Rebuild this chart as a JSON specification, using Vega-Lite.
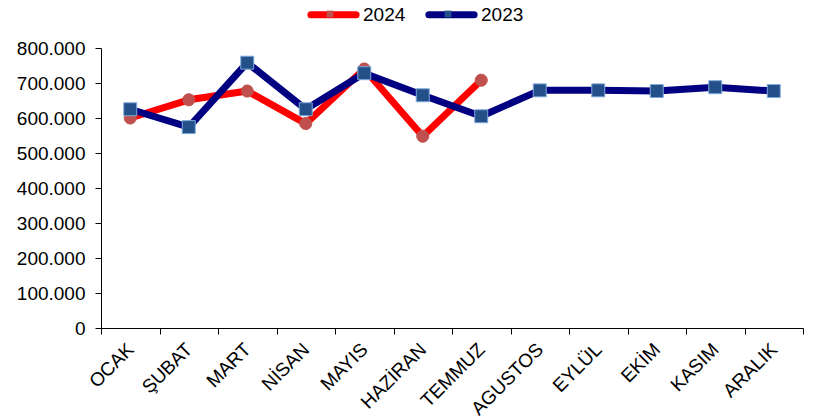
{
  "$schema": "https://vega.github.io/schema/vega-lite/v6.json",
  "width": 702,
  "height": 280,
  "autosize": "none",
  "padding": {"left": 101, "top": 48, "right": 10, "bottom": 92},
  "background": "white",
  "data": {
    "values": [
      {"month": "OCAK", "series": "2024", "value": 600000},
      {"month": "ŞUBAT", "series": "2024", "value": 652000},
      {"month": "MART", "series": "2024", "value": 677000},
      {"month": "NİSAN", "series": "2024", "value": 584000},
      {"month": "MAYIS", "series": "2024", "value": 740000},
      {"month": "HAZİRAN", "series": "2024", "value": 548000},
      {"month": "TEMMUZ", "series": "2024", "value": 708000},
      {"month": "OCAK", "series": "2023", "value": 625000},
      {"month": "ŞUBAT", "series": "2023", "value": 574000},
      {"month": "MART", "series": "2023", "value": 758000},
      {"month": "NİSAN", "series": "2023", "value": 625000},
      {"month": "MAYIS", "series": "2023", "value": 728000},
      {"month": "HAZİRAN", "series": "2023", "value": 665000},
      {"month": "TEMMUZ", "series": "2023", "value": 605000},
      {"month": "AGUSTOS", "series": "2023", "value": 679000},
      {"month": "EYLÜL", "series": "2023", "value": 679000},
      {"month": "EKİM", "series": "2023", "value": 677000},
      {"month": "KASIM", "series": "2023", "value": 688000},
      {"month": "ARALIK", "series": "2023", "value": 677000}
    ]
  },
  "encoding": {
    "x": {
      "field": "month",
      "type": "nominal",
      "bandPosition": 0.5,
      "scale": {
        "type": "band",
        "paddingInner": 0,
        "paddingOuter": 0,
        "domain": ["OCAK", "ŞUBAT", "MART", "NİSAN", "MAYIS", "HAZİRAN", "TEMMUZ", "AGUSTOS", "EYLÜL", "EKİM", "KASIM", "ARALIK"]
      },
      "axis": {
        "title": null,
        "labelAngle": -45,
        "labelAlign": "right",
        "labelBaseline": "middle",
        "tickBand": "extent",
        "labelPadding": 12,
        "labelOverlap": false
      }
    },
    "y": {
      "field": "value",
      "type": "quantitative",
      "scale": {"domain": [0, 800000]},
      "axis": {
        "title": null,
        "format": ",d",
        "values": [0, 100000, 200000, 300000, 400000, 500000, 600000, 700000, 800000],
        "labelPadding": 10,
        "labelOverlap": false
      }
    }
  },
  "layer": [
    {
      "mark": {"type": "line", "strokeWidth": 7, "strokeCap": "round", "strokeJoin": "round"},
      "encoding": {
        "color": {
          "field": "series",
          "type": "nominal",
          "scale": {"domain": ["2024", "2023"], "range": ["#FF0000", "#000080"]},
          "legend": {
            "orient": "none",
            "direction": "horizontal",
            "legendX": 203,
            "legendY": -63,
            "title": null,
            "symbolSize": 2704,
            "labelOffset": 0,
            "columnPadding": 8,
            "encode": {
              "symbols": {
                "update": {
                  "shape": {"value": "M-0.87,0H0.87"},
                  "fill": {"value": "transparent"},
                  "strokeWidth": {"value": 7},
                  "strokeCap": {"value": "round"},
                  "size": {"value": 2704}
                }
              }
            }
          }
        }
      }
    },
    {
      "mark": {"type": "point", "filled": true, "size": 9244, "strokeWidth": 1, "opacity": 1},
      "encoding": {
        "fill": {
          "field": "series",
          "type": "nominal",
          "sort": ["2024", "2023"],
          "scale": {"range": ["#C0504D", "#24508A"]},
          "legend": {
            "orient": "none",
            "direction": "horizontal",
            "legendX": 203,
            "legendY": -60,
            "title": null,
            "symbolSize": 2704,
            "symbolType": "M-0.13,-0.13H0.13V0.13H-0.13Z",
            "symbolStrokeWidth": 0,
            "labelOffset": 0,
            "columnPadding": 66,
            "labelExpr": "''"
          }
        },
        "shape": {
          "field": "series",
          "type": "nominal",
          "sort": ["2024", "2023"],
          "scale": {
            "range": [
              "M0.125,0A0.125,0.125 0 1 1 -0.125,0A0.125,0.125 0 1 1 0.125,0Z",
              "M-0.135,-0.135H0.135V0.135H-0.135Z"
            ]
          },
          "legend": null
        },
        "stroke": {
          "field": "series",
          "type": "nominal",
          "sort": ["2024", "2023"],
          "scale": {"range": ["#C0504D", "#7FA9DB"]},
          "legend": null
        }
      }
    }
  ],
  "config": {
    "locale": {"number": {"decimal": ",", "thousands": ".", "grouping": [3], "currency": ["", ""]}},
    "font": "Liberation Sans",
    "view": {"stroke": null},
    "axis": {
      "labelFont": "Liberation Sans",
      "labelFontSize": 19,
      "labelColor": "#000000",
      "domainColor": "#000000",
      "tickColor": "#000000",
      "tickSize": 6,
      "grid": false
    },
    "legend": {"labelFont": "Liberation Sans", "labelFontSize": 19, "labelColor": "#000000"}
  }
}
